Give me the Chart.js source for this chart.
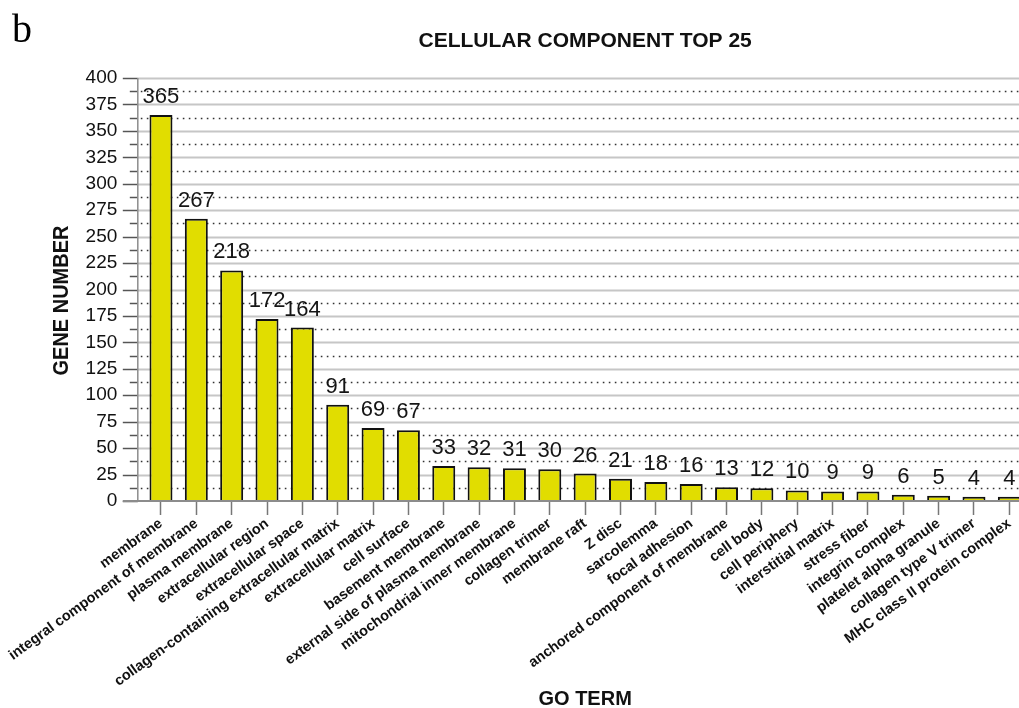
<!DOCTYPE html>
<html>
<head>
<meta charset="utf-8">
<script src="https://cdn.jsdelivr.net/npm/chart.js@4.4.1/dist/chart.umd.min.js"></script>
<style>
  html, body { margin: 0; padding: 0; background: #fff; overflow: hidden; }
  #wrap { width: 1040px; height: 708px; }
</style>
</head>
<body>
<div id="wrap"><canvas id="c" width="1040" height="708"></canvas></div>
<script>
// GO cellular component terms, ranked by gene count
const categories = [
  'membrane', 'integral component of membrane', 'plasma membrane',
  'extracellular region', 'extracellular space',
  'collagen-containing extracellular matrix', 'extracellular matrix',
  'cell surface', 'basement membrane', 'external side of plasma membrane',
  'mitochondrial inner membrane', 'collagen trimer', 'membrane raft',
  'Z disc', 'sarcolemma', 'focal adhesion', 'anchored component of membrane',
  'cell body', 'cell periphery', 'interstitial matrix', 'stress fiber',
  'integrin complex', 'platelet alpha granule', 'collagen type V trimer',
  'MHC class II protein complex'
];
const geneCounts = [365, 267, 218, 172, 164, 91, 69, 67, 33, 32, 31, 30, 26,
  21, 18, 16, 13, 12, 10, 9, 9, 6, 5, 4, 4];

// value axis: major ticks every 25, dotted minor lines halfway between
const yMin = 0;
const yMax = 400;
const yMajorStep = 25;
const yMinorStep = 12.5;

const panelLetter = 'b';
const chartTitle = 'CELLULAR COMPONENT TOP 25';
const yTitle = 'GENE NUMBER';
const xTitle = 'GO TERM';

const SANS = "'Liberation Sans', Arial, Helvetica, sans-serif";
const SERIF = "'Liberation Serif', 'Times New Roman', serif";

// horizontal rules, tick marks and the vertical axis line behind the bars
const gridPlugin = {
  id: 'gridPlugin',
  beforeDatasetsDraw(chart) {
    const { ctx, chartArea: a, scales: { y } } = chart;
    const W = chart.width;
    const axisX = a.left - 5.5;
    ctx.save();
    for (let v = yMin; v <= yMax + 1e-9; v += yMinorStep) {
      const py = Math.round(y.getPixelForValue(v)) + 0.5;
      const major = Math.abs(v / yMajorStep - Math.round(v / yMajorStep)) < 1e-9;
      ctx.setLineDash([]);
      if (major) {
        if (v !== yMin) {
          ctx.strokeStyle = '#c6c6c6';
          ctx.lineWidth = 2;
          ctx.beginPath(); ctx.moveTo(axisX, py); ctx.lineTo(W, py); ctx.stroke();
        }
        ctx.strokeStyle = '#555';
        ctx.lineWidth = 1.5;
        ctx.beginPath(); ctx.moveTo(axisX - 15, py); ctx.lineTo(axisX, py); ctx.stroke();
      } else {
        ctx.strokeStyle = '#555';
        ctx.lineWidth = 1.5;
        ctx.beginPath(); ctx.moveTo(axisX - 8, py); ctx.lineTo(axisX, py); ctx.stroke();
        ctx.strokeStyle = '#333';
        ctx.setLineDash([1.6, 4.4]);
        ctx.beginPath(); ctx.moveTo(axisX + 3, py); ctx.lineTo(W, py); ctx.stroke();
      }
    }
    ctx.setLineDash([]);
    ctx.strokeStyle = '#8c8c8c';
    ctx.lineWidth = 1.5;
    ctx.beginPath();
    ctx.moveTo(axisX, y.getPixelForValue(yMax));
    ctx.lineTo(axisX, y.getPixelForValue(yMin));
    ctx.stroke();
    ctx.restore();
  },
  afterDatasetsDraw(chart) {
    const { ctx, chartArea: a, scales: { y } } = chart;
    const axisX = a.left - 5.5;
    const py = y.getPixelForValue(yMin);
    ctx.save();
    ctx.strokeStyle = '#8c8c8c';
    ctx.lineWidth = 2;
    ctx.beginPath(); ctx.moveTo(axisX - 15, py); ctx.lineTo(chart.width, py); ctx.stroke();
    ctx.restore();
  }
};

// count printed above each bar, the vertical axis title and the panel letter
const labelPlugin = {
  id: 'labelPlugin',
  afterDatasetsDraw(chart) {
    const { ctx, scales: { y } } = chart;
    const meta = chart.getDatasetMeta(0);
    ctx.save();
    ctx.fillStyle = '#151515';
    ctx.font = '22px ' + SANS;
    ctx.textAlign = 'center';
    ctx.textBaseline = 'alphabetic';
    meta.data.forEach((bar, i) => {
      ctx.fillText(String(geneCounts[i]), bar.x, bar.y - 12);
    });

    // axis title, rotated, centred slightly below the middle of the axis
    ctx.save();
    ctx.translate(y.left + 10, (y.top + y.bottom) / 2 + 11);
    ctx.rotate(-Math.PI / 2);
    ctx.font = 'bold 20px ' + SANS;
    ctx.fillStyle = '#111';
    ctx.textAlign = 'center';
    ctx.textBaseline = 'middle';
    ctx.scale(1, 1.12);
    ctx.fillText(yTitle, 0, 0);
    ctx.restore();

    ctx.font = '40px ' + SERIF;
    ctx.textAlign = 'left';
    ctx.fillStyle = '#000';
    ctx.fillText(panelLetter, 12, 42);
    ctx.restore();
  }
};

new Chart(document.getElementById('c'), {
  type: 'bar',
  data: {
    labels: categories,
    datasets: [{
      data: geneCounts,
      backgroundColor: '#e1dd00',
      borderColor: '#111',
      borderWidth: 2,
      borderSkipped: 'start',
      barPercentage: 0.65,
      categoryPercentage: 1.0
    }]
  },
  options: {
    responsive: false,
    animation: false,
    devicePixelRatio: 1,
    layout: { padding: { left: 52, right: 13, top: 0, bottom: 0 } },
    plugins: {
      legend: { display: false },
      tooltip: { enabled: false },
      title: {
        display: true,
        text: chartTitle,
        fullSize: false,
        color: '#111',
        font: { family: SANS, size: 21, weight: 'bold', lineHeight: 1 },
        padding: { top: 31, bottom: 26 }
      }
    },
    scales: {
      x: {
        type: 'category',
        offset: true,
        grid: {
          display: true,
          offset: false,
          drawOnChartArea: false,
          drawTicks: true,
          tickLength: 14,
          tickColor: '#777',
          tickWidth: 1.5
        },
        border: { display: false },
        ticks: {
          autoSkip: false,
          maxRotation: 36,
          minRotation: 36,
          padding: 0,
          color: '#111',
          font: { family: SANS, size: 14.5, weight: 'bold' }
        },
        title: {
          display: true,
          text: xTitle,
          color: '#111',
          font: { family: SANS, size: 20, weight: 'bold', lineHeight: 0.9 },
          padding: { top: 0, bottom: 0 }
        },
        afterFit(scale) { scale.height = 207; }
      },
      y: {
        type: 'linear',
        min: yMin,
        max: yMax,
        grid: { display: false, drawTicks: false },
        border: { display: false },
        ticks: {
          stepSize: yMajorStep,
          padding: 26,
          color: '#111',
          font: { family: SANS, size: 19 }
        },
        afterFit(scale) { scale.width = 91.3; }
      }
    }
  },
  plugins: [gridPlugin, labelPlugin]
});
</script>
</body>
</html>
